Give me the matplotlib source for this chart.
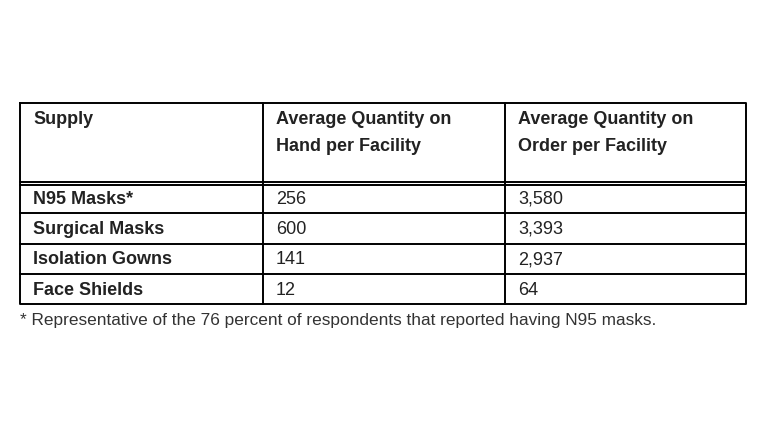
import matplotlib
matplotlib.use("Agg")
import matplotlib.pyplot as plt

supplies = ["N95 Masks*", "Surgical Masks", "Isolation Gowns", "Face Shields"]
on_hand = ["256", "600", "141", "12"]
on_order = ["3,580", "3,393", "2,937", "64"]
headers = ["Supply", "Average Quantity on\nHand per Facility", "Average Quantity on\nOrder per Facility"]
footnote = "* Representative of the 76 percent of respondents that reported having N95 masks."

fig = plt.figure(figsize=(7.68, 4.32), dpi=100)
ax = fig.add_axes([0, 0, 1, 1])
ax.set_xlim(0, 768)
ax.set_ylim(432, 0)
ax.axis("off")

font = "Liberation Sans"
fs = 13.0
xl, xr = 20, 746
cols = [20, 263, 505, 746]
ytop, yhead = 103, 183
rowh = 30.3
ybot = yhead + rowh * len(supplies)
lw = 1.4
ax.plot([xl, xr, xr, xl, xl], [ytop, ytop, ybot, ybot, ytop], color="black", lw=lw)
for c in cols[1:-1]:
    ax.plot([c, c], [ytop, ybot], color="black", lw=lw)
ax.plot([xl, xr], [yhead - 1.5, yhead - 1.5], color="black", lw=lw)
ax.plot([xl, xr], [yhead + 1.5, yhead + 1.5], color="black", lw=lw)
for i in range(1, len(supplies)):
    y = yhead + rowh * i
    ax.plot([xl, xr], [y, y], color="black", lw=lw)

for j, h in enumerate(headers):
    ax.text(cols[j] + 13, 111, h, fontsize=fs, fontweight="bold", family=font,
            va="top", ha="left", linespacing=1.75, color="#222222")

for i, (s, a, b) in enumerate(zip(supplies, on_hand, on_order)):
    y = yhead + rowh * i + rowh / 2 + 1
    ax.text(cols[0] + 13, y, s, fontsize=fs, fontweight="bold", family=font, va="center", color="#222222")
    ax.text(cols[1] + 13, y, a, fontsize=fs, family=font, va="center", color="#222222")
    ax.text(cols[2] + 13, y, b, fontsize=fs, family=font, va="center", color="#222222")

ax.text(20, 321, footnote, fontsize=12.4, family=font, va="center", ha="left", color="#333333")

fig.savefig("out.png", dpi=100)
